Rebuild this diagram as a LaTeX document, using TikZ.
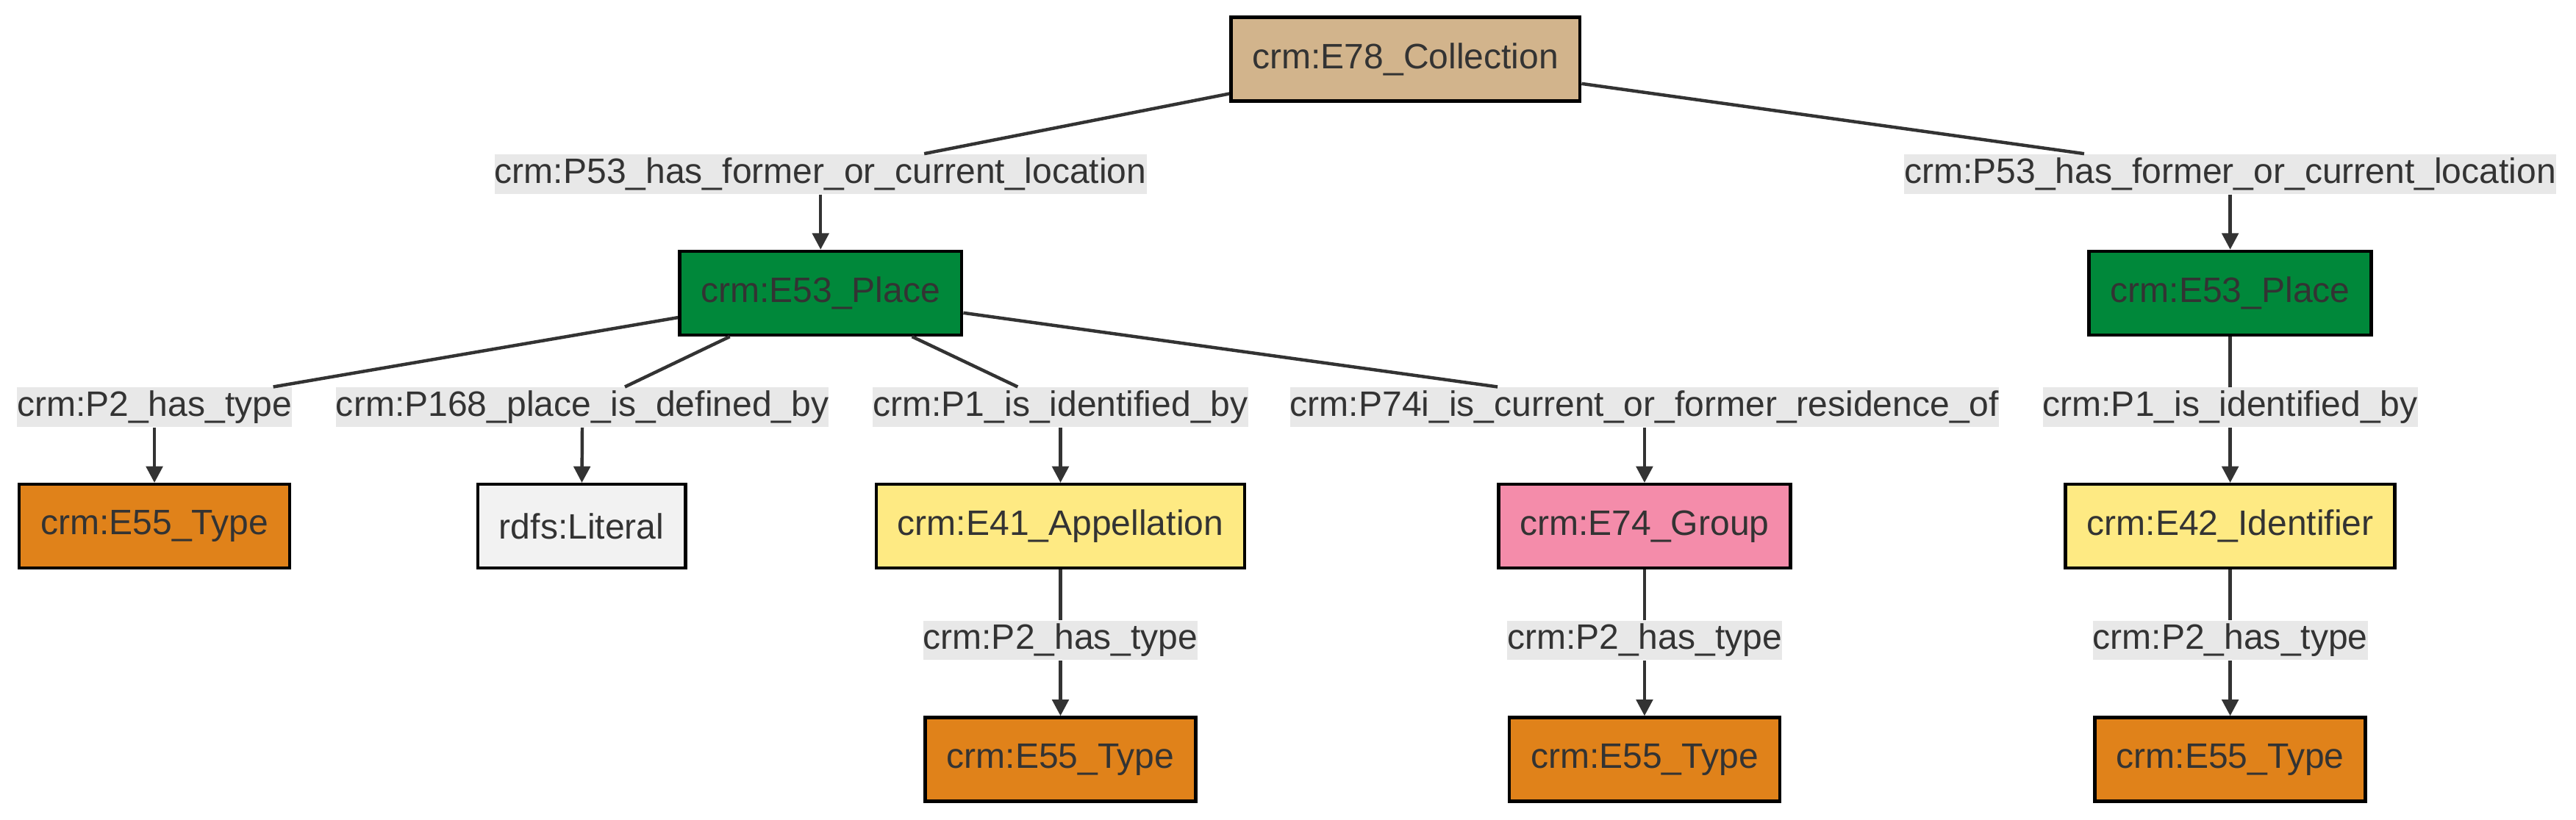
\documentclass[tikz,border=0pt]{standalone}
\usepackage{fontspec}
\setmainfont{Liberation Sans}
\usepackage{xcolor}
\usetikzlibrary{arrows.meta}

\definecolor{txtgrey}{HTML}{333333}
\definecolor{collectiontan}{HTML}{D2B48C}
\definecolor{placegreen}{HTML}{00883A}
\definecolor{typeorange}{HTML}{E0821A}
\definecolor{literalgrey}{HTML}{F2F2F2}
\definecolor{appelyellow}{HTML}{FEEA83}
\definecolor{grouppink}{HTML}{F48CAA}
\definecolor{labelgrey}{HTML}{E8E8E8}

\begin{document}
\begin{tikzpicture}
  [x=0.5pt,y=-0.5pt,
   every node/.style={font=\fontsize{10.75pt}{12pt}\selectfont,text=txtgrey},
   cls/.style={draw=black,line width=1pt,minimum height=25.5pt,inner xsep=6.5pt,inner ysep=0pt},
   lbl/.style={fill=labelgrey,inner sep=0pt,minimum height=12pt},
   link/.style={draw=txtgrey,line width=1pt},
   arr/.style={link,-{Triangle[length=5pt,width=5pt]}}]
  \useasboundingbox (0,0) rectangle (1568,499);

  % classes
  \node[cls,fill=collectiontan] (coll) at (855.5,36) {crm:E78\_Collection};
  \node[cls,fill=placegreen] (pla) at (499.5,178.5) {crm:E53\_Place};
  \node[cls,fill=placegreen] (plb) at (1357.5,178.5) {crm:E53\_Place};
  \node[cls,fill=typeorange] (tya) at (94,320.5) {crm:E55\_Type};
  \node[cls,fill=literalgrey] (lit) at (354,320.5) {rdfs:Literal};
  \node[cls,fill=appelyellow] (app) at (645.5,320.5) {crm:E41\_Appellation};
  \node[cls,fill=grouppink] (grp) at (1001,320.5) {crm:E74\_Group};
  \node[cls,fill=appelyellow] (ide) at (1357.5,320.5) {crm:E42\_Identifier};
  \node[cls,fill=typeorange] (tyb) at (645.5,462.5) {crm:E55\_Type};
  \node[cls,fill=typeorange] (tyc) at (1001,462.5) {crm:E55\_Type};
  \node[cls,fill=typeorange] (tyd) at (1357.5,462.5) {crm:E55\_Type};

  % properties
  \node[lbl] (la) at (499.5,106) {crm:P53\_has\_former\_or\_current\_location};
  \node[lbl] (lb) at (1357.5,106) {crm:P53\_has\_former\_or\_current\_location};
  \node[lbl] (lc) at (94,248) {crm:P2\_has\_type};
  \node[lbl] (ld) at (354.5,248) {crm:P168\_place\_is\_defined\_by};
  \node[lbl] (le) at (645.5,248) {crm:P1\_is\_identified\_by};
  \node[lbl] (lf) at (1001,248) {crm:P74i\_is\_current\_or\_former\_residence\_of};
  \node[lbl] (lg) at (1357.5,248) {crm:P1\_is\_identified\_by};
  \node[lbl] (lh) at (645.5,390) {crm:P2\_has\_type};
  \node[lbl] (li) at (1001,390) {crm:P2\_has\_type};
  \node[lbl] (lj) at (1357.5,390) {crm:P2\_has\_type};

  \foreach \from/\to in {coll/la,coll/lb,pla/lc,pla/ld,pla/le,pla/lf,plb/lg,app/lh,grp/li,ide/lj}
    \draw[link] (\from) -- (\to);
  \foreach \from/\to in {la/pla,lb/plb,lc/tya,ld/lit,le/app,lf/grp,lg/ide,lh/tyb,li/tyc,lj/tyd}
    \draw[arr] (\from) -- (\to);

\end{tikzpicture}
\end{document}
